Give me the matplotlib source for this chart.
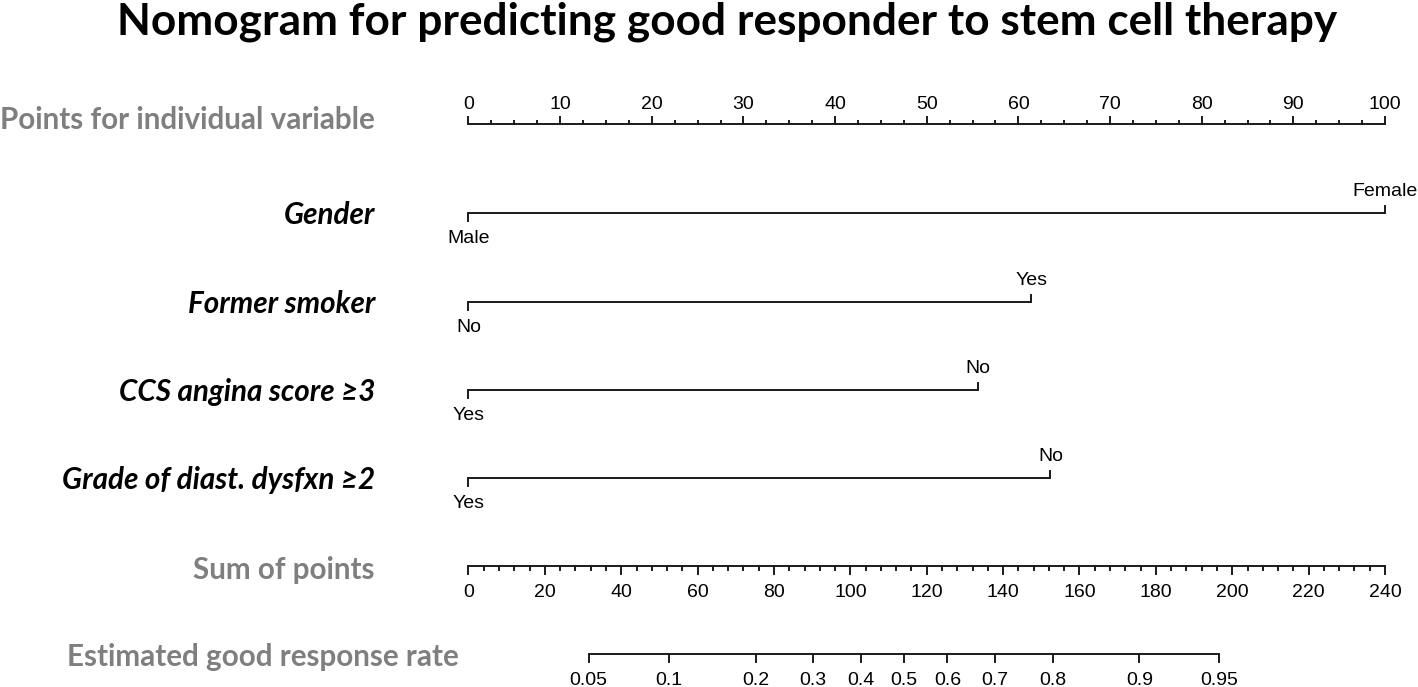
import numpy as np
import matplotlib
matplotlib.use("Agg")
import matplotlib.pyplot as plt

# ---------------- data ----------------
title = "Nomogram for predicting good responder to stem cell therapy"

points_label = "Points for individual variable"
points_ticks = list(range(0, 101, 10))
points_minor = 2.5

variables = ["Gender", "Former smoker", "CCS angina score \u22653", "Grade of diast. dysfxn \u22652"]
low_levels = ["Male", "No", "Yes", "Yes"]
high_levels = ["Female", "Yes", "No", "No"]
high_points = [100.0, 61.4, 55.6, 63.5]   # points for the high level (low level = 0)

total_label = "Sum of points"
total_ticks = list(range(0, 241, 20))
total_minor = 4
total_max = 240

prob_label = "Estimated good response rate"
prob_ticks = [0.05, 0.1, 0.2, 0.3, 0.4, 0.5, 0.6, 0.7, 0.8, 0.9, 0.95]
prob_tick_labels = ["0.05", "0.1", "0.2", "0.3", "0.4", "0.5", "0.6", "0.7", "0.8", "0.9", "0.95"]
total_at_half = 114.05      # total points where probability = 0.5
points_per_logit = 28.05    # total points per unit of linear predictor

# ---------------- layout ----------------
W, H, DPI = 1418, 687, 100
AX0_PX, AX100_PX = 468.5, 1385.0
ppx = (AX100_PX - AX0_PX) / 100.0

fig = plt.figure(figsize=(W / DPI, H / DPI), dpi=DPI)
ax = fig.add_axes([0, 0, 1, 1])
ax.set_xlim(-AX0_PX / ppx, (W - AX0_PX) / ppx)
ax.set_ylim(H, 0)
ax.axis("off")

LINE_C = "#1a1a1a"
GRAY = "#7f7f7f"
LW = 1.4
LABEL_FONT = "Lato"
TICK_FONT = "Liberation Sans"
TICK_FS = 14
LABEL_X = (375 - AX0_PX) / ppx
MAJ = 7.5
MIN = 3.5

y_points = 124
y_vars = [213, 302, 390, 478]
y_total = 566
y_prob = 654

# Title
t_title = ax.text((727 - AX0_PX) / ppx, 34, title, ha="center", va="baseline",
                  fontfamily=LABEL_FONT, fontweight="bold", fontsize=31, color="black")

# Points axis (ticks up, labels above)
ax.plot([points_ticks[0], points_ticks[-1]], [y_points, y_points], color=LINE_C, lw=LW, solid_capstyle="butt")
for v in np.arange(points_ticks[0], points_ticks[-1] + 1e-9, points_minor):
    major = abs(v - round(v / 10) * 10) < 1e-9
    ax.plot([v, v], [y_points, y_points - (MAJ if major else MIN)], color=LINE_C, lw=LW)
for v in points_ticks:
    ax.text(v, y_points - 15, str(v), ha="center", va="baseline",
            fontfamily=TICK_FONT, fontsize=TICK_FS, color="black")
t_pts = ax.text(LABEL_X, 120, points_label, ha="right", va="center",
                fontfamily=LABEL_FONT, fontweight="bold", fontsize=22, color=GRAY)

# Variables
var_texts = []
for name, lo, hi, hp, y in zip(variables, low_levels, high_levels, high_points, y_vars):
    ax.plot([0, hp], [y, y], color=LINE_C, lw=LW, solid_capstyle="butt")
    ax.plot([0, 0], [y, y + MAJ], color=LINE_C, lw=LW)
    ax.plot([hp, hp], [y, y - MAJ], color=LINE_C, lw=LW)
    ax.text(0, y + 30, lo, ha="center", va="baseline", fontfamily=TICK_FONT, fontsize=TICK_FS)
    ax.text(hp, y - 17, hi, ha="center", va="baseline", fontfamily=TICK_FONT, fontsize=TICK_FS)
    var_texts.append(ax.text(LABEL_X, y + 2, name, ha="right", va="center",
                             fontfamily=LABEL_FONT, fontweight="bold", fontstyle="italic",
                             fontsize=22, color="black"))

# Total points axis (ticks down, labels below)
to_u = lambda tp: np.asarray(tp, dtype=float) * 100.0 / total_max
ax.plot(to_u([total_ticks[0], total_ticks[-1]]), [y_total, y_total], color=LINE_C, lw=LW, solid_capstyle="butt")
for v in np.arange(total_ticks[0], total_ticks[-1] + 1e-9, total_minor):
    major = abs(v - round(v / 20) * 20) < 1e-9
    u = float(to_u(v))
    ax.plot([u, u], [y_total, y_total + (MAJ if major else MIN)], color=LINE_C, lw=LW)
for v in total_ticks:
    ax.text(float(to_u(v)), y_total + 31, str(v), ha="center", va="baseline",
            fontfamily=TICK_FONT, fontsize=TICK_FS)
t_tot = ax.text(LABEL_X, 570, total_label, ha="right", va="center",
                fontfamily=LABEL_FONT, fontweight="bold", fontsize=22, color=GRAY)

# Probability axis
p = np.array(prob_ticks)
prob_total = total_at_half + points_per_logit * np.log(p / (1 - p))
pu = to_u(prob_total)
ax.plot([pu[0], pu[-1]], [y_prob, y_prob], color=LINE_C, lw=LW, solid_capstyle="butt")
for u, lab in zip(pu, prob_tick_labels):
    ax.plot([u, u], [y_prob, y_prob + MAJ], color=LINE_C, lw=LW)
    ax.text(u, y_prob + 31, lab, ha="center", va="baseline", fontfamily=TICK_FONT, fontsize=TICK_FS)
t_prob = ax.text((459 - AX0_PX) / ppx, 657, prob_label, ha="right", va="center",
                 fontfamily=LABEL_FONT, fontweight="bold", fontsize=22, color=GRAY)

# fit font sizes to the reference text widths
fig.canvas.draw()
r = fig.canvas.get_renderer()
def fit(t, target):
    w = t.get_window_extent(r).width
    t.set_fontsize(t.get_fontsize() * target / w)
fit(t_title, 1217)
fit(t_pts, 375)
fs = t_pts.get_fontsize()
for t in var_texts + [t_tot, t_prob]:
    t.set_fontsize(fs)

fig.savefig("out.png", dpi=DPI)
